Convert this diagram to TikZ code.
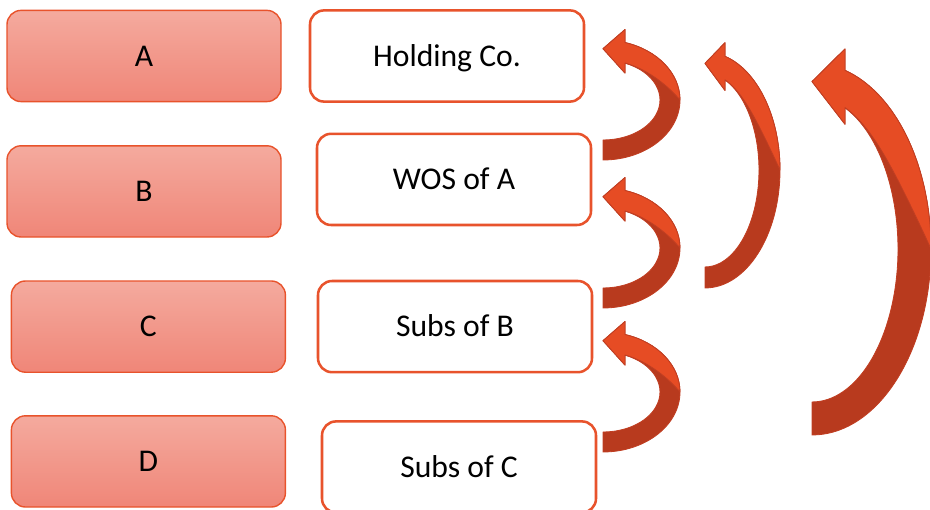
\documentclass[tikz,border=0pt]{standalone}
\usepackage{fontspec}
\setmainfont{Carlito}
\usetikzlibrary{positioning}
\definecolor{boxedge}{RGB}{232, 83, 44}
\definecolor{boxtop}{RGB}{244, 170, 158}
\definecolor{boxbottom}{RGB}{240, 134, 120}
\definecolor{arrowlight}{RGB}{230, 76, 36}
\definecolor{arrowdark}{RGB}{184, 58, 30}
\definecolor{arrowline}{RGB}{192, 62, 34}

% curved block arrow: #1 centre, #2 outer x radius, #3 outer y radius, #4 band width, #5 head base offset (px)
\newcommand{\bentarrow}[5]{%
  \pgfmathsetmacro{\arRi}{#2-#4}
  \pgfmathsetmacro{\arHi}{#3-#4}
  \pgfmathsetmacro{\arTa}{acos(#5/#2)}
  \pgfmathsetmacro{\arTb}{acos(#5/\arRi)}
  \pgfmathsetmacro{\arYo}{#3*sin(\arTa)}
  \pgfmathsetmacro{\arYi}{\arHi*sin(\arTb)}
  \pgfmathsetmacro{\arYt}{0.7*\arYo+0.3*\arYi}
  \pgfmathsetmacro{\arWo}{\arYo+0.65*#4}
  \pgfmathsetmacro{\arWi}{\arYi-0.5*#4}
  \begin{scope}[shift={(#1)}, x=0.025cm, y=0.025cm]
    \filldraw[arrowback] (0,-#3)
      arc[start angle=-90, end angle=\arTa, x radius=#2, y radius=#3]
      -- (#5,\arWo) -- (0,\arYt) -- (#5,\arWi) -- (#5,\arYi)
      arc[start angle=\arTb, end angle=-90, x radius=\arRi, y radius=\arHi]
      -- cycle;
    \filldraw[arrowfront] (#2,0)
      arc[start angle=0, end angle=\arTa, x radius=#2, y radius=#3]
      -- (#5,\arWo) -- (0,\arYt) -- (#5,\arWi) -- (#5,\arYi)
      -- plot[domain=\arTb:0, samples=40, variable=\t]
         ({(\arRi+#4*(1-\t/90)^4)*cos(\t)}, {(\arHi+#4*(1-\t/90)^4)*sin(\t)})
      -- cycle;
  \end{scope}%
}

\begin{document}
\begin{tikzpicture}[
    entity/.style={
        rectangle,
        rounded corners=10pt,
        draw=boxedge,
        line width=1pt,
        top color=boxtop,
        bottom color=boxbottom,
        minimum width=6.85cm,
        minimum height=2.28cm,
        text height=14.5pt,
        text depth=0pt,
        font=\fontsize{22.5}{27}\selectfont
    },
    role/.style={
        rectangle,
        rounded corners=10pt,
        draw=boxedge,
        line width=1.8pt,
        fill=white,
        minimum width=6.85cm,
        minimum height=2.28cm,
        text height=14.5pt,
        text depth=0pt,
        font=\fontsize{22.5}{27}\selectfont
    },
    arrowfront/.style={
        fill=arrowlight,
        draw=arrowline,
        line width=0.6pt,
        line join=round
    },
    arrowback/.style={
        fill=arrowdark,
        draw=arrowline,
        line width=0.6pt,
        line join=round
    }
]

\useasboundingbox (0,0) rectangle (23.25,12.725);
\clip (0,0) rectangle (23.25,12.725);

% Companies
\node[entity] (entA) at (3.6,11.325) {A};
\node[entity] (entB) at (3.6,7.94) {B};
\node[entity] (entC) at (3.71,4.56) {C};
\node[entity] (entD) at (3.71,1.19) {D};

% Roles
\node[role] (hold) at (11.175,11.325) {Holding Co.};
\node[role] (wos) at (11.35,8.24) {WOS of A};
\node[role] (subsb) at (11.375,4.56) {Subs of B};
\node[role] (subsc) at (11.475,1.05) {Subs of C};

% Arrow centres
\coordinate (wosup) at (15.075,10.225);
\coordinate (subsbup) at (15.075,6.525);
\coordinate (subscup) at (15.075,2.925);
\coordinate (subsbtop) at (17.625,8.475);
\coordinate (subsctop) at (20.3,6.5);

% Curved arrows
\bentarrow{wosup}{77}{60}{20}{22}
\bentarrow{subsbup}{77}{60}{20}{22}
\bentarrow{subscup}{77}{60}{20}{22}
\bentarrow{subsbtop}{75}{118}{21}{20}
\bentarrow{subsctop}{119}{186}{33}{33}

\end{tikzpicture}
\end{document}
